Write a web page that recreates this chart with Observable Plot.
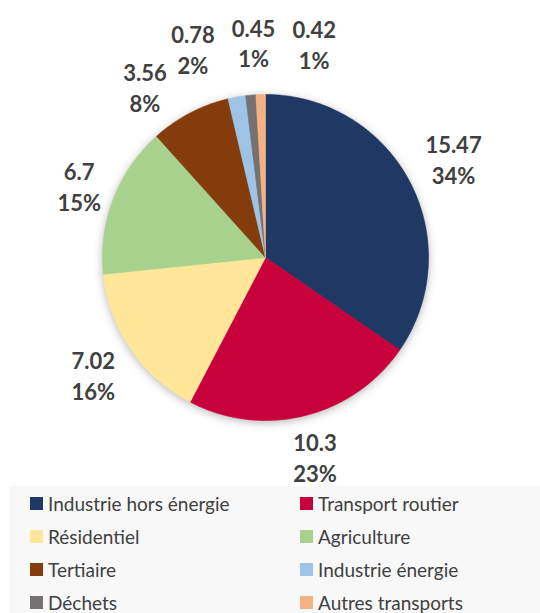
<!DOCTYPE html>
<html>
<head>
<meta charset="utf-8">
<script src="https://cdn.jsdelivr.net/npm/d3@7"></script>
<script src="https://cdn.jsdelivr.net/npm/@observablehq/plot@0.6"></script>
<style>
  html, body { margin: 0; padding: 0; background: #ffffff; }
  #chart svg { display: block; }
  #chart g[aria-label="line"] { filter: drop-shadow(0px 2px 4px rgba(0,0,0,0.28)); }
  #legend {
    position: relative; margin-left: 10px; margin-top: -14px; width: 530px; height: 127px;
    background: #f8f8f8; box-sizing: border-box; padding: 1px 0 0 20px;
    display: grid; grid-template-columns: 270px 1fr; grid-auto-rows: 33px;
    font-family: Lato, "Open Sans", sans-serif; font-size: 19px; color: #404040;
  }
  #legend .item { display: flex; align-items: center; white-space: nowrap; }
  #legend .sw { width: 13px; height: 13px; margin-right: 5px; flex: none; }
</style>
</head>
<body>
<div id="chart"></div>
<div id="legend"></div>
<script>
// ---- data ----
const categories = ["Industrie hors énergie", "Transport routier", "Résidentiel", "Agriculture",
                    "Tertiaire", "Industrie énergie", "Déchets", "Autres transports"];
const values = [15.47, 10.3, 7.02, 6.7, 3.56, 0.78, 0.45, 0.42];
const valueLabels = ["15.47", "10.3", "7.02", "6.7", "3.56", "0.78", "0.45", "0.42"];
const percentLabels = ["34%", "23%", "16%", "15%", "8%", "2%", "1%", "1%"];
const colors = ["#1f3864", "#c8003c", "#ffe699", "#a9d18e", "#843c0c", "#9dc3e6", "#767171", "#f4b183"];

// ---- geometry: slices clockwise from 12 o'clock ----
const R = 163; // pixel radius implied by the margins below
const total = d3.sum(values);
const slices = [];
let acc = 0;
values.forEach((v, i) => {
  slices.push({cat: categories[i], frac: v / total, start: acc / total * 360, end: (acc + v) / total * 360});
  acc += v;
});

const arcPts = [];
slices.forEach(s => {
  const n = Math.max(2, Math.ceil(s.end - s.start));
  arcPts.push({cat: s.cat, x: 0, y: 0});
  for (let k = 0; k <= n; k++) {
    const a = (s.start + (s.end - s.start) * k / n) * Math.PI / 180;
    arcPts.push({cat: s.cat, x: Math.sin(a), y: Math.cos(a)});
  }
  arcPts.push({cat: s.cat, x: 0, y: 0});
});

// label angles: mid-angle, relaxed so that neighbouring labels do not overlap
const la = slices.map(s => (s.start + s.end) / 2);
const minSep = 16;
for (let it = 0; it < 300; it++) {
  for (let i = 0; i < la.length; i++) {
    const j = (i + 1) % la.length;
    const gap = la[j] + (j === 0 ? 360 : 0) - la[i];
    if (gap < minSep) { const d = (minSep - gap) / 2; la[i] -= d; la[j] += d; }
  }
}
// label box sits just outside the rim; crowded tiny slices are pushed further out
const labels = slices.map((s, i) => {
  const a = la[i] * Math.PI / 180;
  const w = valueLabels[i].length * 12, h = 55;
  const extent = Math.abs(Math.sin(a)) * w / 2 + Math.abs(Math.cos(a)) * h / 2;
  const gap = s.frac < 0.03 ? 24 : 10;
  const r = (R + gap + extent) / R;
  return {x: Math.sin(a) * r, y: Math.cos(a) * r, text: valueLabels[i] + "\n" + percentLabels[i]};
});

const plot = Plot.plot({
  width: 540,
  height: 500,
  marginLeft: 102,
  marginRight: 112,
  marginTop: 94,
  marginBottom: 80,
  x: {domain: [-1, 1], axis: null},
  y: {domain: [-1, 1], axis: null},
  color: {domain: categories, range: colors},
  marks: [
    Plot.line(arcPts, {x: "x", y: "y", z: "cat", fill: "cat", stroke: "cat", strokeWidth: 0.6, curve: "linear"}),
    Plot.text(labels, {x: "x", y: "y", text: "text", fill: "#404040", fontWeight: "bold",
      fontSize: 22, fontFamily: "Lato, 'Open Sans', sans-serif", lineHeight: 1.4, textAnchor: "middle"})
  ]
});
document.getElementById("chart").append(plot);

// ---- legend built from the same arrays ----
const legend = document.getElementById("legend");
categories.forEach((c, i) => {
  const item = document.createElement("div");
  item.className = "item";
  const sw = document.createElement("span");
  sw.className = "sw";
  sw.style.background = colors[i];
  const t = document.createElement("span");
  t.textContent = c;
  item.append(sw, t);
  legend.append(item);
});
</script>
</body>
</html>
